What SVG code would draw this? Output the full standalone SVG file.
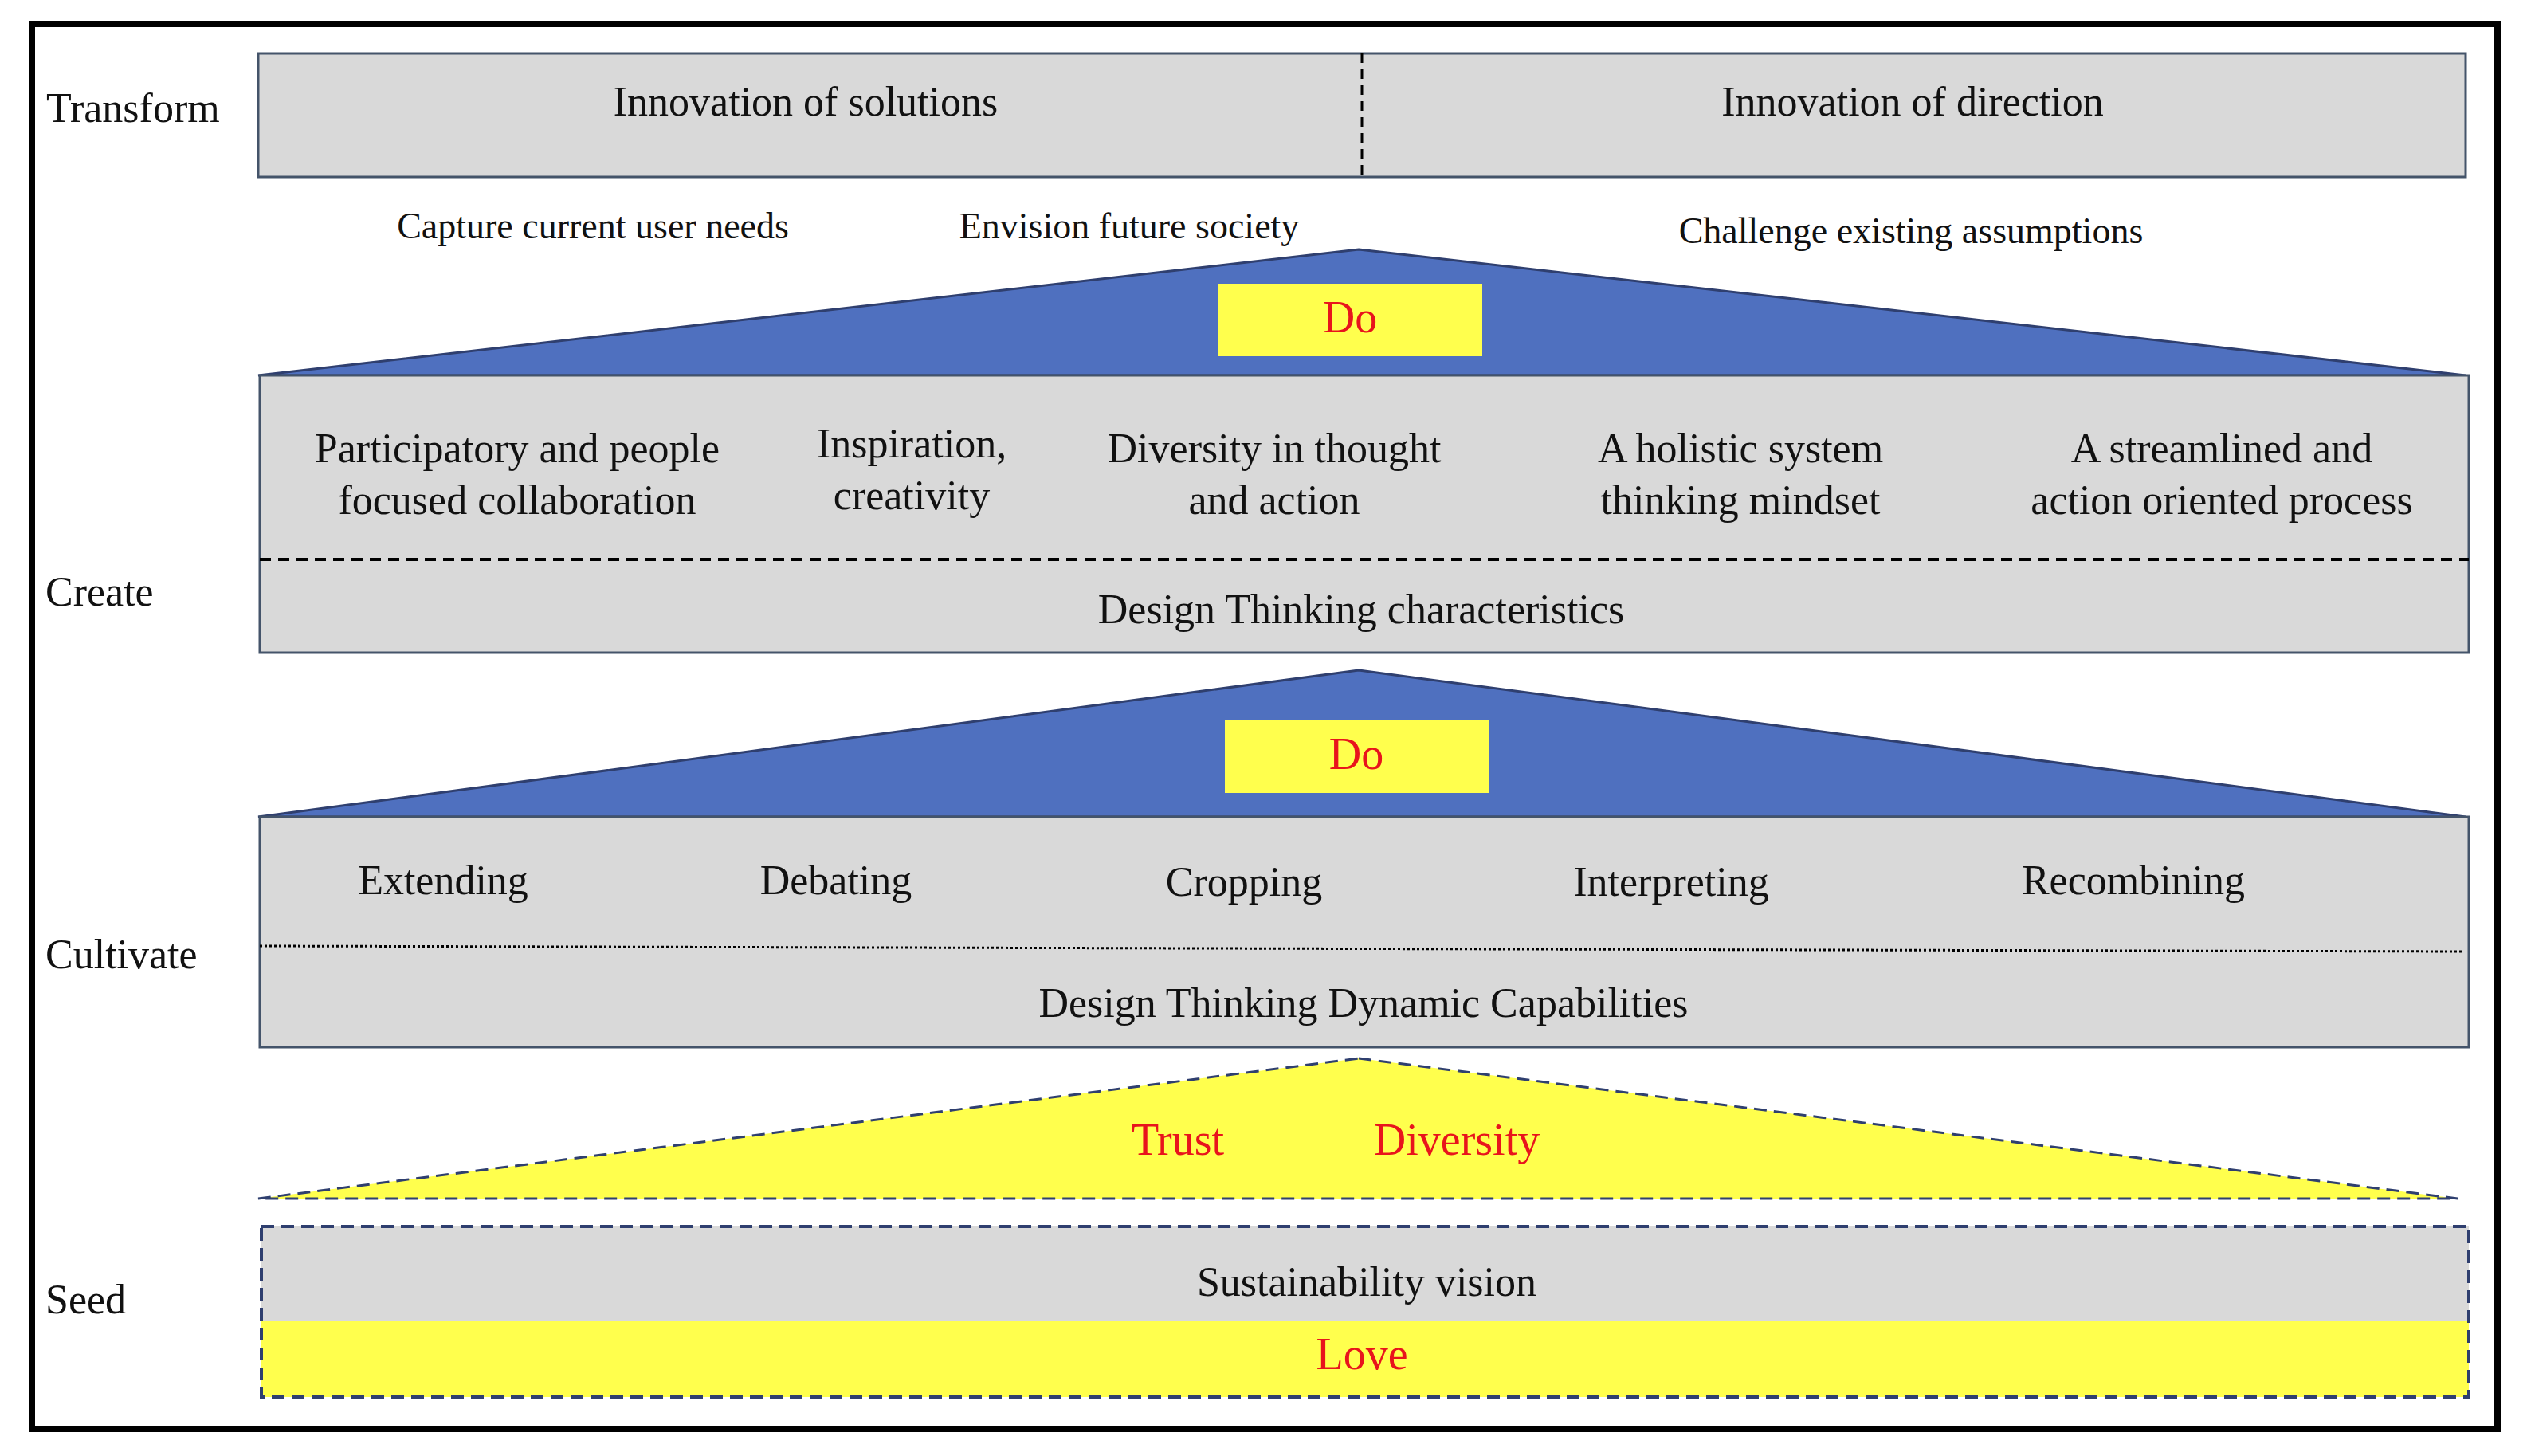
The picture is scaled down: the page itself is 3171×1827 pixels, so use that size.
<svg xmlns="http://www.w3.org/2000/svg" width="3171" height="1827" viewBox="0 0 3171 1827">
<style>
text{font-family:"Liberation Serif","DejaVu Serif",serif;font-size:52px;fill:#111;dominant-baseline:central;text-anchor:middle}
.l{text-anchor:start}
.s{font-size:46px}
.r{fill:#e8141c;font-size:56px}
.box{fill:#d9d9d9;stroke:#44546a;stroke-width:3}
.tri{fill:#4f70bf;stroke:#2f3f6f;stroke-width:3}
.y{fill:#ffff4d}
</style>
<rect width="3171" height="1827" fill="#fff"/>
<rect x="40" y="30" width="3094" height="1763" fill="none" stroke="#000" stroke-width="8"/>
<g id="labels">
<text class="l" x="58" y="135">Transform</text>
<text class="l" x="57" y="742">Create</text>
<text class="l" x="57" y="1197">Cultivate</text>
<text class="l" x="57" y="1630">Seed</text>
</g>
<g id="transform">
<rect class="box" x="324" y="67" width="2770" height="155"/>
<line x1="1709" y1="67" x2="1709" y2="222" stroke="#000" stroke-width="3" stroke-dasharray="12,8"/>
<text x="1011" y="127">Innovation of solutions</text>
<text x="2400" y="127">Innovation of direction</text>
<text class="s" x="744" y="283">Capture current user needs</text>
<text class="s" x="1417" y="283">Envision future society</text>
<text class="s" x="2398" y="289">Challenge existing assumptions</text>
</g>
<g id="do1">
<polygon class="tri" points="1705,313 3094,471 324,471"/>
<rect class="y" x="1529" y="356" width="331" height="91"/>
<text class="r" x="1694" y="398">Do</text>
</g>
<g id="create">
<rect class="box" x="326" y="471" width="2772" height="348"/>
<line x1="326" y1="702" x2="3098" y2="702" stroke="#000" stroke-width="4" stroke-dasharray="14,9"/>
<text x="649" y="562">Participatory and people</text>
<text x="649" y="627">focused collaboration</text>
<text x="1144" y="556">Inspiration,</text>
<text x="1144" y="621">creativity</text>
<text x="1599" y="562">Diversity in thought</text>
<text x="1599" y="627">and action</text>
<text x="2184" y="562">A holistic system</text>
<text x="2184" y="627">thinking mindset</text>
<text x="2788" y="562">A streamlined and</text>
<text x="2788" y="627">action oriented process</text>
<text x="1708" y="764">Design Thinking characteristics</text>
</g>
<g id="do2">
<polygon class="tri" points="1705,841 3094,1025 324,1025"/>
<rect class="y" x="1537" y="904" width="331" height="91"/>
<text class="r" x="1702" y="946">Do</text>
</g>
<g id="cultivate">
<rect class="box" x="326" y="1025" width="2772" height="289"/>
<line x1="326" y1="1187" x2="3090" y2="1194" stroke="#000" stroke-width="3" stroke-dasharray="3,3"/>
<text x="556" y="1104">Extending</text>
<text x="1049" y="1104">Debating</text>
<text x="1561" y="1106">Cropping</text>
<text x="2097" y="1106">Interpreting</text>
<text x="2677" y="1104">Recombining</text>
<text x="1711" y="1258">Design Thinking Dynamic Capabilities</text>
</g>
<g id="values">
<polygon points="1705,1328 3084,1504 324,1504" fill="#ffff4d" stroke="#2f3f6f" stroke-width="3" stroke-dasharray="16,9"/>
<text class="r" x="1478" y="1430">Trust</text>
<text class="r" x="1828" y="1430">Diversity</text>
</g>
<g id="seed">
<rect x="328" y="1539" width="2770" height="119" fill="#d9d9d9"/>
<rect class="y" x="328" y="1658" width="2770" height="95"/>
<rect x="328" y="1539" width="2770" height="214" fill="none" stroke="#2f3f6f" stroke-width="4" stroke-dasharray="16,9"/>
<text x="1715" y="1608">Sustainability vision</text>
<text class="r" x="1709" y="1699">Love</text>
</g>
</svg>
